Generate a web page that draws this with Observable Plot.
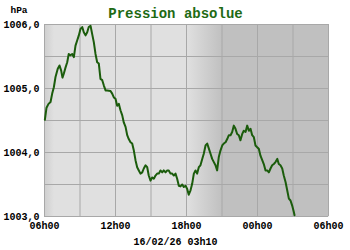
<!DOCTYPE html>
<html><head><meta charset="utf-8">
<script src="https://cdn.jsdelivr.net/npm/d3@7"></script>
<script src="https://cdn.jsdelivr.net/npm/@observablehq/plot@0.6"></script>
<style>
html,body{margin:0;padding:0;background:#fff;}
</style>
</head><body><div id="chart"></div>
<script>
const title = "Pression absolue";
const unit = "hPa";
const stamp = "16/02/26 03h10";
// hours elapsed since 06h00 on the first day
const hours = [0.03,0.17,0.34,0.51,0.65,0.79,0.93,1.12,1.27,1.41,1.52,1.63,1.78,1.92,2.05,2.20,2.34,2.48,2.62,2.76,2.90,3.04,3.19,3.32,3.47,3.61,3.74,3.89,4.03,4.17,4.31,4.45,4.59,4.73,4.88,5.01,5.16,5.30,5.58,5.72,5.86,6.00,6.14,6.28,6.42,6.57,6.70,6.85,6.99,7.12,7.27,7.41,7.55,7.69,7.83,7.97,8.11,8.26,8.39,8.54,8.68,8.81,8.96,9.10,9.24,9.38,9.52,9.66,9.80,9.95,10.08,10.23,10.37,10.50,10.65,10.79,10.93,11.07,11.21,11.35,11.49,11.64,11.77,11.92,12.06,12.19,12.34,12.48,12.62,12.76,12.90,13.04,13.18,13.33,13.46,13.61,13.75,13.89,14.03,14.17,14.31,14.45,14.59,14.73,14.87,15.02,15.15,15.30,15.44,15.58,15.72,15.86,16.00,16.14,16.28,16.42,16.56,16.71,16.84,16.99,17.13,17.27,17.41,17.55,17.69,17.83,17.98,18.11,18.25,18.40,18.53,18.68,18.82,18.96,19.10,19.24,19.38,19.52,19.67,19.80,19.94,20.09,20.22,20.37,20.51,20.65,20.79,20.93,21.07,21.13];
const pressure = [1004.51,1004.70,1004.76,1004.79,1004.92,1005.02,1005.18,1005.31,1005.36,1005.28,1005.17,1005.23,1005.33,1005.41,1005.54,1005.52,1005.54,1005.49,1005.67,1005.75,1005.83,1005.93,1005.96,1005.88,1005.83,1005.88,1005.96,1005.98,1005.85,1005.72,1005.54,1005.41,1005.39,1005.15,1005.13,1005.05,1004.97,1004.97,1004.96,1004.92,1004.86,1004.84,1004.73,1004.76,1004.66,1004.58,1004.47,1004.40,1004.27,1004.21,1004.16,1004.14,1004.03,1003.88,1003.77,1003.72,1003.67,1003.69,1003.75,1003.80,1003.77,1003.64,1003.56,1003.61,1003.59,1003.64,1003.67,1003.67,1003.72,1003.69,1003.72,1003.69,1003.72,1003.72,1003.67,1003.67,1003.64,1003.67,1003.59,1003.48,1003.47,1003.50,1003.46,1003.48,1003.43,1003.34,1003.41,1003.51,1003.67,1003.72,1003.67,1003.77,1003.80,1003.90,1003.98,1004.11,1004.14,1004.06,1003.98,1003.90,1003.85,1003.80,1003.72,1003.93,1004.03,1004.11,1004.14,1004.16,1004.21,1004.27,1004.27,1004.32,1004.42,1004.37,1004.29,1004.27,1004.19,1004.29,1004.34,1004.32,1004.42,1004.34,1004.37,1004.27,1004.24,1004.11,1004.08,1004.06,1003.95,1003.88,1003.82,1003.72,1003.72,1003.69,1003.75,1003.80,1003.82,1003.85,1003.90,1003.82,1003.80,1003.75,1003.64,1003.54,1003.41,1003.28,1003.25,1003.17,1003.07,1003.02];
const gridHours = [0,3,6,9,12,15,18,21,24];
const xTicks = [0,6,12,18,24];
const xTickLabels = ["06h00","12h00","18h00","00h00","06h00"];
const gridValues = [1003,1003.5,1004,1004.5,1005,1005.5,1006];
const yTicks = [1003,1004,1005,1006];
const yTickLabels = ["1003,0","1004,0","1005,0","1006,0"];
// daylight / night shading transitions (hours since 06h00)
const shadeHours = [0,0.8,12,15,24];
const shadeColors = ["#cfcfcf","#e0e0e0","#e0e0e0","#c0c0c0","#c0c0c0"];

const data = hours.map((h,i)=>({h, p: pressure[i]}));
const mono = "'Liberation Mono','DejaVu Sans Mono',monospace";

const chart = Plot.plot({
  width: 350, height: 250,
  marginTop: 24, marginLeft: 44, marginRight: 22, marginBottom: 34,
  style: {fontFamily: mono, fontWeight: "bold", fontSize: "10px", background: "#fff", color: "#000", overflow: "visible"},
  x: {domain: [0,24], label: null},
  y: {domain: [1003,1006], label: null},
  marks: [
    Plot.frame({fill: "url(#nightShade)", stroke: null}),
    Plot.gridX(gridHours, {stroke: "#a8a8a8", strokeOpacity: 1, strokeWidth: 1}),
    Plot.gridY(gridValues, {stroke: "#a8a8a8", strokeOpacity: 1, strokeWidth: 1}),
    Plot.line(data, {x: "h", y: "p", stroke: "#1b5c0c", strokeWidth: 2, strokeLinejoin: "round"}),
    Plot.axisX(xTicks, {label: null, tickSize: 0, tickPadding: 5, tickFormat: d => xTickLabels[xTicks.indexOf(d)], fontWeight: "bold", fill: "#000"}),
    Plot.axisY(yTicks, {label: null, tickSize: 0, tickPadding: 5, tickFormat: d => yTickLabels[yTicks.indexOf(d)], fontWeight: "bold", fill: "#000"}),
    Plot.text([title], {frameAnchor: "top", dx: -11, dy: -16.5, fontSize: 14, fontWeight: "bold", fill: "#1e6a14", textAnchor: "middle"}),
    Plot.text([unit], {frameAnchor: "top-left", dx: -25.5, dy: -18.5, fontSize: 9.5, fontWeight: "bold", fill: "#000", textAnchor: "middle"}),
    Plot.text([stamp], {frameAnchor: "bottom", dx: -11, dy: 28, fontSize: 10, fontWeight: "bold", fill: "#000", textAnchor: "middle"})
  ]
});

const xs = chart.scale("x");
const ns = "http://www.w3.org/2000/svg";
const defs = document.createElementNS(ns, "defs");
const grad = document.createElementNS(ns, "linearGradient");
grad.setAttribute("id", "nightShade");
grad.setAttribute("gradientUnits", "userSpaceOnUse");
grad.setAttribute("x1", xs.apply(0));
grad.setAttribute("x2", xs.apply(24));
grad.setAttribute("y1", 0);
grad.setAttribute("y2", 0);
shadeHours.forEach((h, i) => {
  const s = document.createElementNS(ns, "stop");
  s.setAttribute("offset", h / 24);
  s.setAttribute("stop-color", shadeColors[i]);
  grad.appendChild(s);
});
defs.appendChild(grad);
chart.insertBefore(defs, chart.firstChild);
document.getElementById("chart").appendChild(chart);
</script>
</body></html>
